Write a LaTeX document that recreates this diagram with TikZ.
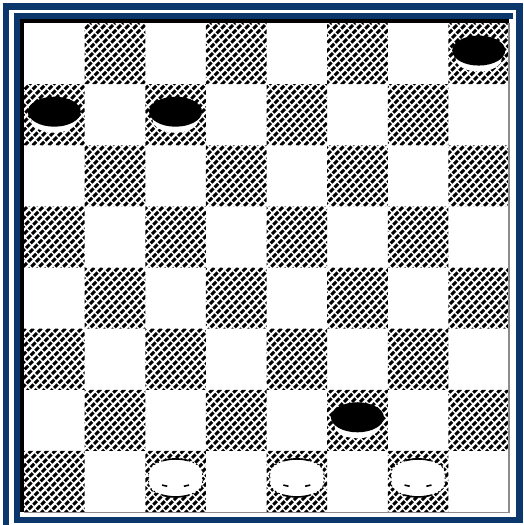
\documentclass[tikz,border=0pt]{standalone}
\definecolor{navy}{RGB}{12,55,108}
\tikzset{
  band/.style={fill=navy},
  edgeline/.style={fill=black},
  hatchline/.style={line width=3pt, dash pattern=on 5pt off 1.6pt, black},
  blackpiece/.pic={
    \fill[white] (0,5) ellipse [x radius=23pt, y radius=13pt];
    \fill[black] (0,-3) ellipse [x radius=26.5pt, y radius=15pt];
  },
  whitepiece/.pic={
    \fill[white] (-27,-8.5) -- (-27,1.5) arc[start angle=180,end angle=360,x radius=27pt,y radius=14pt]
       -- (27,-8.5) arc[start angle=0,end angle=180,x radius=27pt,y radius=14pt] -- cycle;
    \draw[black, line width=1.1pt, dash pattern=on 1.5pt off 2.5pt] (-27,-8.5) -- (-27,1.5) arc[start angle=180,end angle=360,x radius=27pt,y radius=14pt]
       -- (27,-8.5) arc[start angle=0,end angle=180,x radius=27pt,y radius=14pt] -- cycle;
    \draw[black, line width=1.6pt] (0,-8.5) ++(62:27pt and 14pt) arc[start angle=62,end angle=118,x radius=27pt,y radius=14pt];
    \draw[black, line width=1.6pt] (0,1.5) ++(240:27pt and 14pt) arc[start angle=240,end angle=300,x radius=27pt,y radius=14pt];
    \draw[black, line width=1.6pt] (0,-8.5) ++(240:27pt and 14pt) arc[start angle=240,end angle=252,x radius=27pt,y radius=14pt];
    \draw[black, line width=1.6pt] (0,-8.5) ++(288:27pt and 14pt) arc[start angle=288,end angle=300,x radius=27pt,y radius=14pt];
  }
}
\begin{document}
\begin{tikzpicture}[x=1pt,y=-1pt]
\useasboundingbox (0,0) rectangle (524,525);
\fill[white] (0,0) rectangle (524,525);
% frame
\fill[band] (2.5,3) rectangle (523,10);
\fill[band] (2.5,3) rectangle (8.5,525);
\fill[band] (516,3) rectangle (523,522.5);
\fill[band] (14,516.5) rectangle (523,522.5);
\fill[band] (14,13) rectangle (20,522.5);
\fill[band] (14,13) rectangle (513,19);
\fill[edgeline] (20,19) rectangle (24,512);
\fill[edgeline] (20,19) rectangle (509,23);
% hatched dark squares
\begin{scope}
  \clip \foreach \r in {0,...,7}{ \foreach \k in {0,2,4,6}{
      ({24+60.625*(\k+1-mod(\r,2))},{23+61.125*\r}) rectangle +(60.625,61.125) } };
  \foreach \a in {-496,-488,...,496}
    \draw[hatchline] ({24+\a},514) -- ({24+\a+491},23);
\end{scope}
\draw[black!45, line width=1.3pt] (509,23) -- (509,512.5) -- (24,512.5);
% pieces
\foreach \c/\r in {7/0,0/1,2/1,5/6}
  \pic at ({24+60.625*(\c+0.5)},{23+61.125*(\r+0.5)}) {blackpiece};
\foreach \c/\r in {2/7,4/7,6/7}
  \pic at ({24+60.625*(\c+0.5)},{23+61.125*(\r+0.5)}) {whitepiece};
\end{tikzpicture}
\end{document}
